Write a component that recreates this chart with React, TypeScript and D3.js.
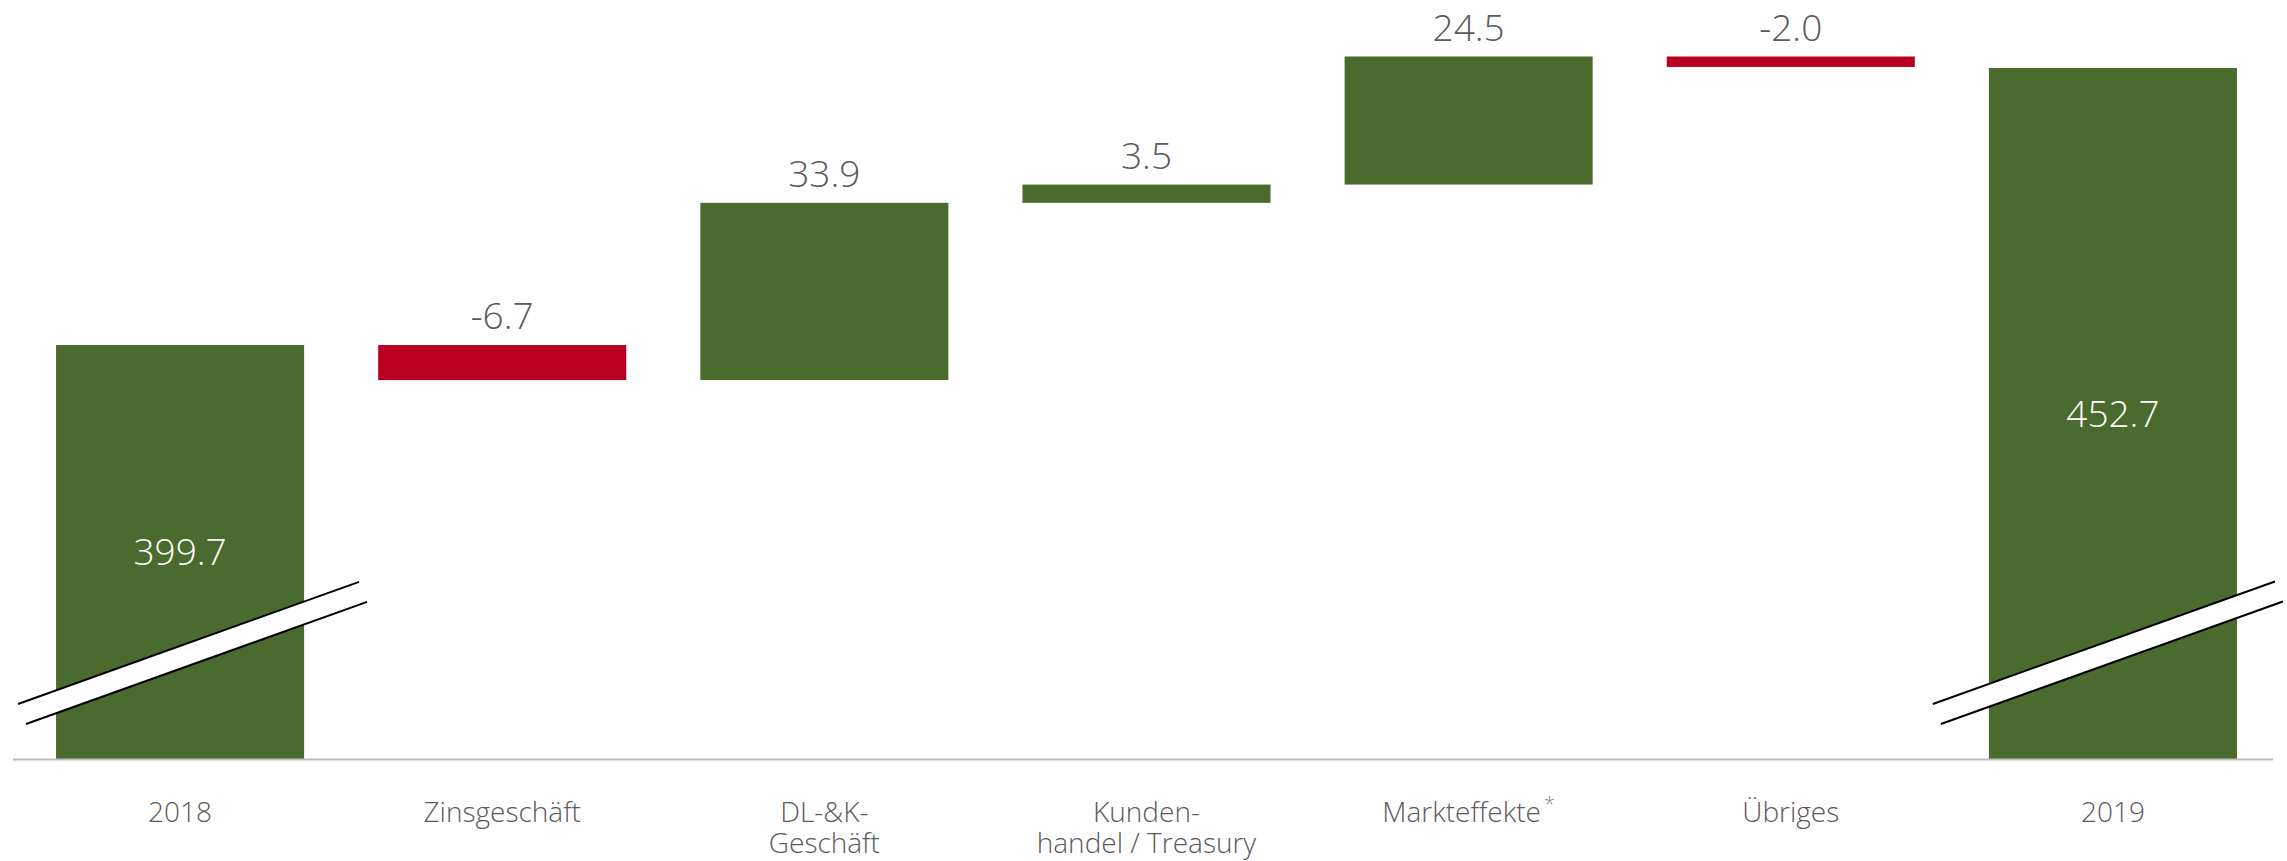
import React from "react";
import * as d3 from "d3";

const categories = ["2018", "Zinsgeschäft", "DL-&K-|Geschäft", "Kunden-|handel / Treasury", "Markteffekte", "Übriges", "2019"];
const values = [399.7, -6.7, 33.9, 3.5, 24.5, -2.0, 452.7];
const kinds = ["total", "delta", "delta", "delta", "delta", "delta", "total"];
const footnotes = ["", "", "", "", "*", "", ""];
const axisMin = 320.5;
const axisMaxShown = 452.7;

const W = 2287;
const H = 861;
const GREEN = "#4a6a2e";
const RED = "#b90022";
const TEXT = "#5a5a5a";
const FONT = "'Open Sans', 'Noto Sans', sans-serif";

export default function App() {
  const x = d3.scaleBand<string>().domain(categories).range([19, 2274]).paddingInner(0.23).paddingOuter(0.115);
  const y = d3.scaleLinear().domain([axisMin, axisMaxShown]).range([759, 68]);
  const base = y(axisMin);

  let run = 0;
  const bars = categories.map((c, i) => {
    const v = values[i];
    let lo: number, hi: number;
    if (kinds[i] === "total") {
      lo = axisMin;
      hi = v;
      run = v;
    } else {
      const start = run;
      run = run + v;
      lo = Math.min(start, run);
      hi = Math.max(start, run);
    }
    const color = kinds[i] === "total" ? GREEN : v < 0 ? RED : GREEN;
    return { c, v, lo, hi, color, i };
  });

  const fmt = (v: number) => v.toFixed(1);

  const breakMark = (bx: number, bw: number, left: boolean, key: string) => {
    const x0 = left ? bx - 38 : bx - 56;
    const x1 = left ? bx + bw + 55 : bx + bw + 38;
    const slope = -0.358;
    const y0 = base - 55;
    const y1 = y0 + (x1 - x0) * slope;
    const dx = 8;
    const dy = 20;
    const poly = `${x0},${y0} ${x1},${y1} ${x1 + dx},${y1 + dy} ${x0 + dx},${y0 + dy}`;
    return (
      <g key={key}>
        <polygon points={poly} fill="#ffffff" />
        <line x1={x0} y1={y0} x2={x1} y2={y1} stroke="#000" strokeWidth={2} />
        <line x1={x0 + dx} y1={y0 + dy} x2={x1 + dx} y2={y1 + dy} stroke="#000" strokeWidth={2} />
      </g>
    );
  };

  return (
    <svg width={W} height={H} style={{ position: "absolute", left: 0, top: 0, background: "#fff" }} fontFamily={FONT} fontWeight={300}>
      {bars.map((b) => {
        const bx = x(b.c)!;
        const bw = x.bandwidth();
        const top = y(b.hi);
        const bot = y(b.lo);
        return (
          <rect key={"r" + b.i} x={bx} y={top} width={bw} height={bot - top} fill={b.color} />
        );
      })}
      <line x1={13} x2={2273} y1={base + 0.5} y2={base + 0.5} stroke="#bdbdbd" strokeWidth={2} />
      {bars.map((b) => {
        const bx = x(b.c)!;
        const bw = x.bandwidth();
        const cx = bx + bw / 2;
        if (kinds[b.i] === "total") {
          const mid = (y(b.hi) + y(b.lo)) / 2;
          return (
            <text key={"t" + b.i} x={cx} y={mid + 13} textAnchor="middle" fontSize={37} fill="#ffffff">
              {fmt(b.v)}
            </text>
          );
        }
        return (
          <text key={"t" + b.i} x={cx} y={y(b.hi) - 16} textAnchor="middle" fontSize={37} fill={TEXT}>
            {fmt(b.v)}
          </text>
        );
      })}
      {bars.filter((b) => kinds[b.i] === "total").map((b) =>
        breakMark(x(b.c)!, x.bandwidth(), b.i === 0, "b" + b.i)
      )}
      {categories.map((c, i) => {
        const cx = x(c)! + x.bandwidth() / 2;
        const lines = c.split("|");
        return (
          <g key={"c" + i}>
            {lines.map((l, j) => (
              <text key={j} x={cx} y={822 + j * 31} textAnchor="middle" fontSize={28} fill={TEXT}>
                {l}
                {j === lines.length - 1 && footnotes[i] ? (
                  <tspan fontSize={20} dy={-11} dx={3} fill="#8a8a8a">{footnotes[i]}</tspan>
                ) : null}
              </text>
            ))}
          </g>
        );
      })}
    </svg>
  );
}
